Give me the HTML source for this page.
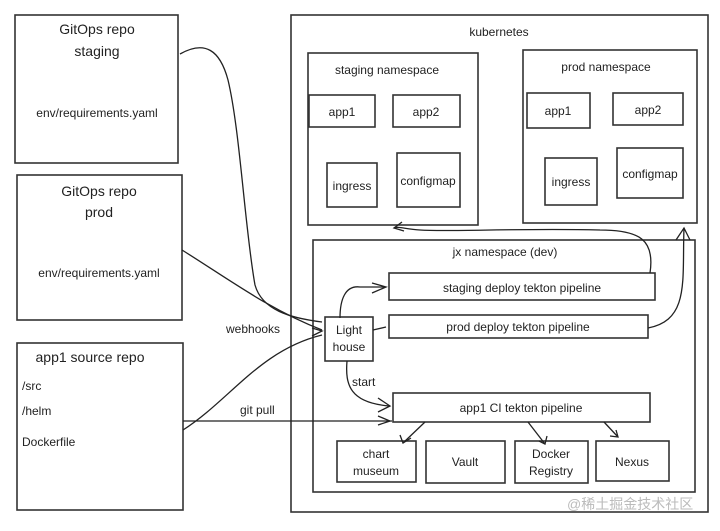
<!DOCTYPE html>
<html><head><meta charset="utf-8"><style>
html,body{margin:0;padding:0;background:#fff;}
svg text{font-family:"Liberation Sans",sans-serif;fill:#222;}
</style></head><body>
<svg width="720" height="526" viewBox="0 0 720 526" xmlns="http://www.w3.org/2000/svg">
<rect width="720" height="526" fill="#fff"/>
<g fill="none" stroke="#333" stroke-width="1.6">
<rect x="15" y="15" width="163" height="148"/>
<rect x="17" y="175" width="165" height="145"/>
<rect x="17" y="343" width="166" height="167"/>
<rect x="291" y="15" width="417" height="497"/>
<rect x="308" y="53" width="170" height="172"/>
<rect x="309" y="95" width="66" height="32"/>
<rect x="393" y="95" width="67" height="32"/>
<rect x="327" y="163" width="50" height="44"/>
<rect x="397" y="153" width="63" height="54"/>
<rect x="523" y="50" width="174" height="173"/>
<rect x="527" y="93" width="63" height="35"/>
<rect x="613" y="93" width="70" height="32"/>
<rect x="545" y="158" width="52" height="47"/>
<rect x="617" y="148" width="66" height="50"/>
<rect x="313" y="240" width="382" height="252"/>
<rect x="389" y="273" width="266" height="27"/>
<rect x="389" y="315" width="259" height="23"/>
<rect x="325" y="317" width="48" height="44"/>
<rect x="393" y="393" width="257" height="29"/>
<rect x="337" y="441" width="79" height="41"/>
<rect x="426" y="441" width="79" height="42"/>
<rect x="515" y="441" width="73" height="42"/>
<rect x="596" y="441" width="73" height="40"/>
</g>
<g fill="none" stroke="#222" stroke-width="1.3">
<path d="M180 54 C205 40 220 50 228 80 C240 130 245 230 255 285 C262 310 290 318 322 322"/>
<path d="M182 250 C230 280 270 310 322 330"/>
<path d="M183 430 C230 400 260 350 322 335"/>
<path d="M183 421 L392 421"/>
<path d="M340 318 C340 300 345 285 360 287 L385 287"/>
<path d="M373 330 L386 327"/>
<path d="M347 361 C345 385 350 403 390 406"/>
<path d="M650 273 C655 240 640 230 600 230 C520 228 450 232 420 230 C405 229 398 226 394 228"/>
<path d="M648 328 C690 320 682 280 684 228"/>
<path d="M425 422 L403 443"/>
<path d="M528 422 L545 444"/>
<path d="M604 422 L618 437"/>
<path d="M312 328 L322 331 L312 336 M372 283 L386 287 L372 293 M378 398 L390 406 L378 412 M378 416 L390 421 L378 425 M676 240 L684 228 L690 240 M404 231 L394 228 L402 222 M400 435 L403 443 L411 438 M539 441 L545 444 L547 436 M610 436 L618 437 L616 430"/>
</g>
<g font-size="14" text-anchor="middle">
<text x="97" y="34">GitOps repo</text>
<text x="97" y="56">staging</text>
<text x="97" y="117" font-size="12">env/requirements.yaml</text>
<text x="99" y="196">GitOps repo</text>
<text x="99" y="217">prod</text>
<text x="99" y="277" font-size="12">env/requirements.yaml</text>
<text x="90" y="362">app1 source repo</text>
<text x="499" y="36" font-size="12">kubernetes</text>
<text x="387" y="74" font-size="12">staging namespace</text>
<text x="606" y="71" font-size="12">prod namespace</text>
<text x="342" y="116" font-size="12">app1</text>
<text x="426" y="116" font-size="12">app2</text>
<text x="352" y="190" font-size="12">ingress</text>
<text x="428" y="185" font-size="12">configmap</text>
<text x="558" y="115" font-size="12">app1</text>
<text x="648" y="114" font-size="12">app2</text>
<text x="571" y="186" font-size="12">ingress</text>
<text x="650" y="178" font-size="12">configmap</text>
<text x="505" y="256" font-size="12">jx namespace (dev)</text>
<text x="522" y="292" font-size="12">staging deploy tekton pipeline</text>
<text x="518" y="331" font-size="12">prod deploy tekton pipeline</text>
<text x="349" y="334" font-size="12">Light</text>
<text x="349" y="351" font-size="12">house</text>
<text x="521" y="412" font-size="12">app1 CI tekton pipeline</text>
<text x="376" y="458" font-size="12">chart</text>
<text x="376" y="475" font-size="12">museum</text>
<text x="465" y="466" font-size="12">Vault</text>
<text x="551" y="458" font-size="12">Docker</text>
<text x="551" y="475" font-size="12">Registry</text>
<text x="632" y="466" font-size="12">Nexus</text>
</g>
<g font-size="12">
<text x="22" y="390">/src</text>
<text x="22" y="415">/helm</text>
<text x="22" y="446">Dockerfile</text>
<text x="226" y="333">webhooks</text>
<text x="240" y="414">git pull</text>
<text x="352" y="386">start</text>
</g>
<text x="567" y="509" font-size="14" fill="#bbb" style="fill:#bbb" font-family="Liberation Sans, Noto Sans CJK SC, sans-serif">@稀土掘金技术社区</text>
</svg>
</body></html>
